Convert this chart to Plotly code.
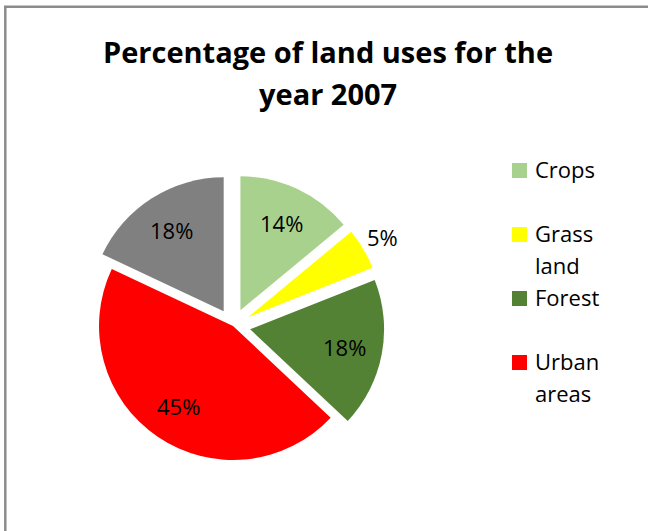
import math
import plotly.graph_objects as go

# Land-use shares for 2007 (percent)
categories = ["Crops", "Grass land", "Forest", "Urban areas", "Other"]
shares = [14, 5, 18, 45, 18]
slice_colors = ["#A9D18E", "#FFFF00", "#548235", "#FF0000", "#808080"]
slice_pull = [0.13, 0.13, 0.13, 0.0, 0.13]
label_outside = [False, True, False, False, False]

# Legend entries shown beside the pie (wrapped as in the legend box)
legend_lines = [["Crops"], ["Grass", "land"], ["Forest"], ["Urban", "areas"]]
legend_colors = slice_colors[:4]

title_lines = ["Percentage of land uses for the", "year 2007"]

W, H = 648, 531
FONT = "Open Sans"


def px(x):
    return x / W


def py(y):
    return 1 - y / H


# Pie box in pixels; plotly sizes the radius so the largest pull still fits
box_x = (81.6, 384.4)
box_y = (174.6, 477.4)
max_pull = max(slice_pull)
radius = min(box_x[1] - box_x[0], box_y[1] - box_y[0]) / (2 + 2 * max_pull)
cx = (box_x[0] + box_x[1]) / 2
cy = (box_y[0] + box_y[1]) / 2

fig = go.Figure()

fig.add_trace(go.Pie(
    labels=categories,
    values=shares,
    sort=False,
    direction="clockwise",
    rotation=0,
    pull=slice_pull,
    marker=dict(colors=slice_colors, line=dict(width=0)),
    textinfo="none",
    showlegend=False,
    hoverinfo="label+percent",
    domain=dict(x=[px(box_x[0]), px(box_x[1])], y=[py(box_y[1]), py(box_y[0])]),
))

annotations = []
shapes = []

# Data labels placed along each slice's bisector (clockwise from 12 o'clock)
total = sum(shares)
start = 0.0
for value, pull, outside in zip(shares, slice_pull, label_outside):
    mid = (start + value / 2) / total * 2 * math.pi
    start += value
    dx, dy = math.sin(mid), -math.cos(mid)
    dist = radius * (pull + (1.17 if outside else 0.72))
    annotations.append(dict(
        text=f"{value}%", x=px(cx + dx * dist), y=py(cy + dy * dist),
        xref="paper", yref="paper", xanchor="center", yanchor="middle",
        showarrow=False, font=dict(family=FONT, size=22, color="black"),
    ))

# Chart title, two centred lines
for i, line in enumerate(title_lines):
    annotations.append(dict(
        text=f"<b>{line}</b>", x=px(328), y=py(51 + 42 * i),
        xref="paper", yref="paper", xanchor="center", yanchor="middle",
        showarrow=False, font=dict(family=FONT, size=29, color="black"),
    ))

# Legend: colour swatch plus wrapped label for each entry
for i, (lines, color) in enumerate(zip(legend_lines, legend_colors)):
    yc = 170.5 + 64 * i
    shapes.append(dict(
        type="rect", xref="paper", yref="paper",
        x0=px(512), x1=px(527), y0=py(yc + 7.5), y1=py(yc - 7.5),
        fillcolor=color, line=dict(width=0),
    ))
    for j, word in enumerate(lines):
        annotations.append(dict(
            text=word, x=px(533), y=py(yc - 1.5 + 32 * j),
            xref="paper", yref="paper", xanchor="left", yanchor="middle",
            showarrow=False, font=dict(family=FONT, size=22, color="black"),
        ))

# Chart-area frame (left and top edges visible)
frame = dict(color="#8C8C8C", width=2.5)
shapes.append(dict(type="line", xref="paper", yref="paper",
                   x0=px(5.3), x1=px(5.3), y0=py(6.7), y1=py(H + 5), line=frame))
shapes.append(dict(type="line", xref="paper", yref="paper",
                   x0=px(4), x1=px(W + 5), y0=py(6.7), y1=py(6.7), line=frame))

fig.update_layout(
    width=W, height=H,
    margin=dict(l=0, r=0, t=0, b=0),
    paper_bgcolor="white",
    plot_bgcolor="white",
    annotations=annotations,
    shapes=shapes,
)

fig.write_html("out.html")
